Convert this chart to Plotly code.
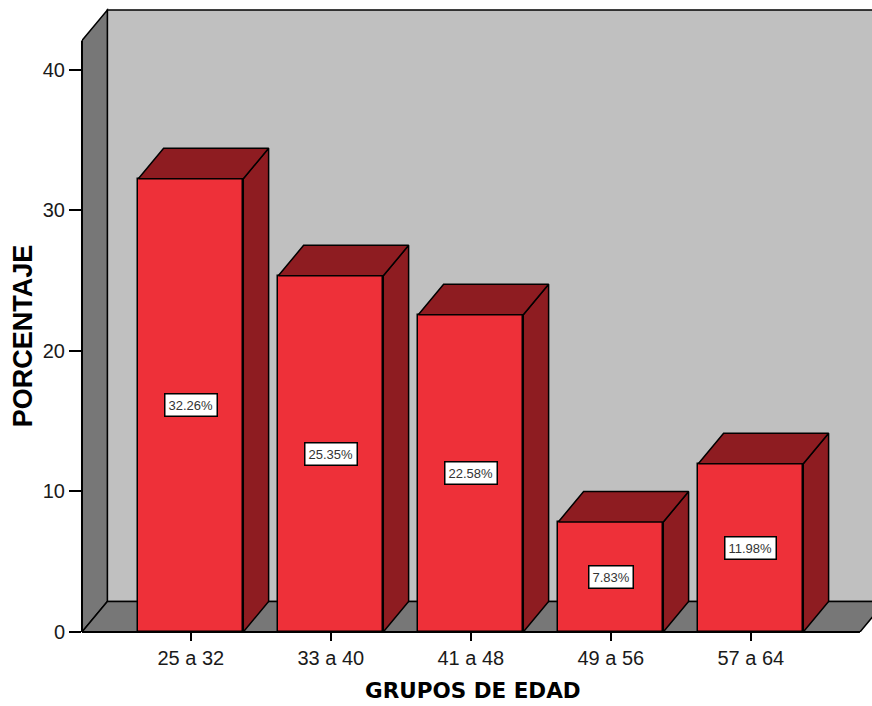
import plotly.graph_objects as go

# ---- data ----
categories = ["25 a 32", "33 a 40", "41 a 48", "49 a 56", "57 a 64"]
values = [32.26, 25.35, 22.58, 7.83, 11.98]
y_ticks = [0, 10, 20, 30, 40]
y_title = "PORCENTAJE"
x_title = "GRUPOS DE EDAD"

# ---- style / geometry ----
FRONT = "#EE3039"
DARK = "#8E1C21"
WALL_BACK = "#C0C0C0"
WALL_SIDE = "#777777"
BAR_W = 0.75
DX = 0.181          # depth offset in x-axis units
DY = 2.17           # depth offset in y-axis units
WALL_TOP = 42.1     # height of the front edge of the left wall
X0 = -0.777         # front-left of the chart box
X1 = 4.78           # front-right of the floor
XR = [X0, 4.866]
YR = [0, 44.98]

W, H = 872, 706
ML, MR, MT, MB = 82, 0, 0, 74
PW = W - ML - MR
PH = H - MT - MB

xs = list(range(len(categories)))

fig = go.Figure()

# front faces
fig.add_trace(go.Bar(
    x=xs, y=values, width=BAR_W,
    marker=dict(color=FRONT, line=dict(color="black", width=1.5)),
    hoverinfo="skip", showlegend=False,
))

# top faces and side faces built from the data values
top_x, top_y, side_x, side_y = [], [], [], []
for i, v in zip(xs, values):
    l, r = i - BAR_W / 2, i + BAR_W / 2
    top_x += [l, l + DX, r + DX, r, l, None]
    top_y += [v, v + DY, v + DY, v, v, None]
    side_x += [r, r, r + DX, r + DX, r, None]
    side_y += [0, v, v + DY, DY, 0, None]

fig.add_trace(go.Scatter(x=side_x, y=side_y, mode="lines", fill="toself",
                         fillcolor=DARK, line=dict(color="black", width=1.5),
                         hoverinfo="skip", showlegend=False))
fig.add_trace(go.Scatter(x=top_x, y=top_y, mode="lines", fill="toself",
                         fillcolor=DARK, line=dict(color="black", width=1.5),
                         hoverinfo="skip", showlegend=False))

# chart box: back wall, left wall, floor
shapes = [
    dict(type="rect", xref="x", yref="y", layer="below",
         x0=X0 + DX, x1=XR[1] + 1, y0=DY, y1=WALL_TOP + DY,
         fillcolor=WALL_BACK, line=dict(color="black", width=1.5)),
    dict(type="path", xref="x", yref="y", layer="below",
         path=f"M{X0},0 L{X0},{WALL_TOP} L{X0+DX},{WALL_TOP+DY} L{X0+DX},{DY} Z",
         fillcolor=WALL_SIDE, line=dict(color="black", width=1.5)),
    dict(type="path", xref="x", yref="y", layer="below",
         path=f"M{X0},0 L{X0+DX},{DY} L{X1+DX},{DY} L{X1},0 Z",
         fillcolor=WALL_SIDE, line=dict(color="black", width=1.5)),
    # front edges of the box (not clipped across the plot edge)
    dict(type="line", xref="paper", yref="y", x0=0, x1=0, y0=0, y1=WALL_TOP,
         line=dict(color="black", width=2)),
    dict(type="line", xref="x", yref="paper", x0=X0, x1=X1, y0=0, y1=0,
         line=dict(color="black", width=2)),
]

annotations = []
for i, v in zip(xs, values):
    annotations.append(dict(
        x=i, y=v / 2, xref="x", yref="y", text=f"{v:.2f}%", showarrow=False,
        font=dict(family="Liberation Sans, Arial", size=13, color="#333333"),
        bgcolor="white", bordercolor="black", borderwidth=1.5, borderpad=3,
    ))

annotations.append(dict(
    xref="paper", yref="y", x=(23 - ML) / PW, y=WALL_TOP / 2,
    text=f"<b>{y_title}</b>", textangle=-90, showarrow=False,
    xanchor="center", yanchor="middle",
    font=dict(family="Liberation Sans, Arial", size=27, color="black"),
))
annotations.append(dict(
    xref="paper", yref="paper", x=(473 - ML) / PW, y=-(690 - PH) / PH,
    text=f"<b>{x_title}</b>", showarrow=False,
    xanchor="center", yanchor="middle",
    font=dict(family="DejaVu Sans, Verdana", size=21.5, color="black"),
))

fig.update_layout(
    width=W, height=H, autosize=False,
    margin=dict(l=ML, r=MR, t=MT, b=MB, pad=0),
    paper_bgcolor="white", plot_bgcolor="white",
    shapes=shapes, annotations=annotations,
    showlegend=False, bargap=0,
)
fig.update_xaxes(
    range=XR, tickmode="array", tickvals=xs, ticktext=categories,
    ticks="outside", ticklen=8, tickwidth=2, tickcolor="black",
    showgrid=False, zeroline=False, showline=False,
    tickfont=dict(family="Liberation Sans, Arial", size=20, color="#1a1a1a"),
    fixedrange=True,
)
fig.update_yaxes(
    range=YR, tickmode="array", tickvals=y_ticks,
    ticks="outside", ticklen=12, tickwidth=2, tickcolor="black",
    showgrid=False, zeroline=False, showline=False,
    tickfont=dict(family="Liberation Sans, Arial", size=20, color="#1a1a1a"),
    fixedrange=True,
)

fig.write_html("out.html", config={"displayModeBar": False})
